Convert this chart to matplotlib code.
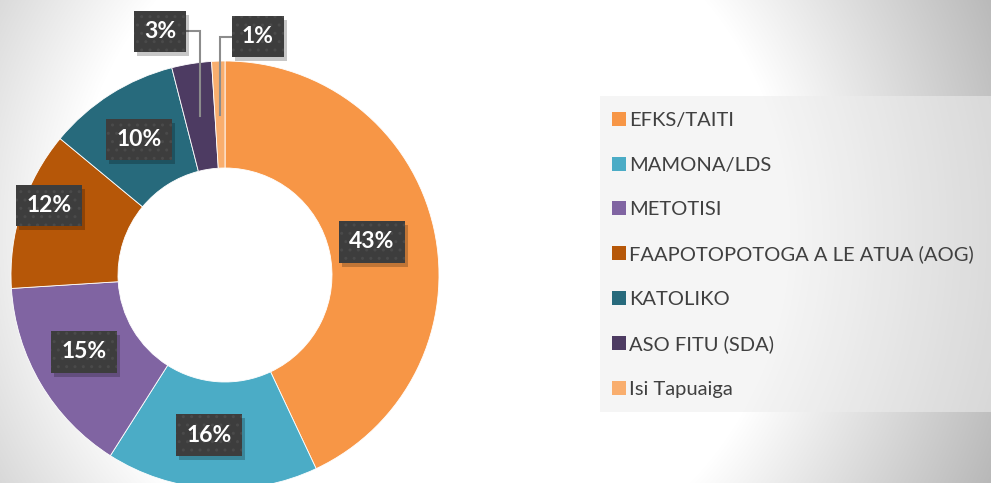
import numpy as np
import matplotlib
matplotlib.use("Agg")
import matplotlib.pyplot as plt
from matplotlib.patches import Rectangle

labels = ["EFKS/TAITI", "MAMONA/LDS", "METOTISI", "FAAPOTOPOTOGA A LE ATUA (AOG)",
          "KATOLIKO", "ASO FITU (SDA)", "Isi Tapuaiga"]
values = [43, 16, 15, 12, 10, 3, 1]
colors = ["#F79646", "#4BACC6", "#8064A2", "#B65708", "#276A7C", "#4D3B62", "#F9AE6E"]

# label nudges in pixels (x, y), None -> outside label with leader line
nudges = [(-10, -2), (-6, 0), (-3, 5), (-23, 20), (0, 0), None, None]
outside = {5: (-40, 85), 6: (38, 78)}

W, H = 991, 483
fig = plt.figure(figsize=(W / 100, H / 100), dpi=100)
ax = fig.add_axes([0, 0, 1, 1])
ax.set_xlim(0, W)
ax.set_ylim(0, H)

# soft radial background
yy, xx = np.mgrid[0:H, 0:W]
d = np.hypot(xx - 430, (H - yy) - 250)
v = np.clip(1 - np.clip(d - 360, 0, None) * 0.0011, 0.72, 1.0)
bg = np.dstack([v, v, v])
ax.imshow(bg, extent=(0, W, 0, H), origin="upper", zorder=0)

cx, cy, R = 225, 208, 214
wedges, _ = ax.pie(values, colors=colors, startangle=90, counterclock=False,
                   radius=R, center=(cx, cy),
                   wedgeprops=dict(width=R / 2, edgecolor="white", linewidth=0.6))
for w in wedges:
    w.set_zorder(2)
ax.set_xlim(0, W)
ax.set_ylim(0, H)
ax.set_aspect("equal")

boxes = []


def box_label(x, y, s):
    t = ax.text(x, y, s, fontsize=16.5, fontweight="bold", family="Lato",
                color="white", ha="center", va="center", zorder=5,
                bbox=dict(boxstyle="square,pad=0.45", facecolor="#3d3d3d",
                          edgecolor="#4a4a4a", linewidth=0, hatch=".."))
    boxes.append(t)


total = sum(values)
cum = 0
for i, val in enumerate(values):
    mid = 90 - 360 * (cum + val / 2) / total
    cum += val
    mx = cx + 0.75 * R * np.cos(np.radians(mid))
    my = cy + 0.75 * R * np.sin(np.radians(mid))
    s = f"{round(100 * val / total)}%"
    if nudges[i] is not None:
        box_label(mx + nudges[i][0], my + nudges[i][1], s)
    else:
        dx, dy = outside[i]
        lx, ly = mx + dx, my + dy
        edge = lx + 25 if dx < 0 else lx - 25
        ax.plot([mx, mx, edge], [my, ly, ly], color="#8c8c8c", lw=1.5,
                zorder=3, solid_joinstyle="miter")
        box_label(lx, ly, s)

# drop shadows behind the label boxes
fig.canvas.draw()
inv = ax.transData.inverted()
for t in boxes:
    ext = t.get_bbox_patch().get_window_extent()
    (x0, y0), (x1, y1) = inv.transform([[ext.x0, ext.y0], [ext.x1, ext.y1]])
    ax.add_patch(Rectangle((x0 + 3, y0 - 4), x1 - x0, y1 - y0,
                           facecolor="black", alpha=0.22, linewidth=0, zorder=4))

# legend panel
ax.add_patch(Rectangle((600, H - 412), 391, 316, facecolor="#ededed",
                       alpha=0.55, linewidth=0, zorder=1))
leg = ax.legend(wedges, labels, loc="upper left",
                bbox_to_anchor=(602 / W, 1 - 102 / H), frameon=False,
                prop=dict(family="Lato", size=14.5), labelcolor="#404040",
                handlelength=0.7, handleheight=0.7, handletextpad=0.15,
                labelspacing=1.36, borderpad=0)
for h in leg.legend_handles:
    h.set_edgecolor("none")

ax.axis("off")
fig.savefig("out.png", dpi=100)
